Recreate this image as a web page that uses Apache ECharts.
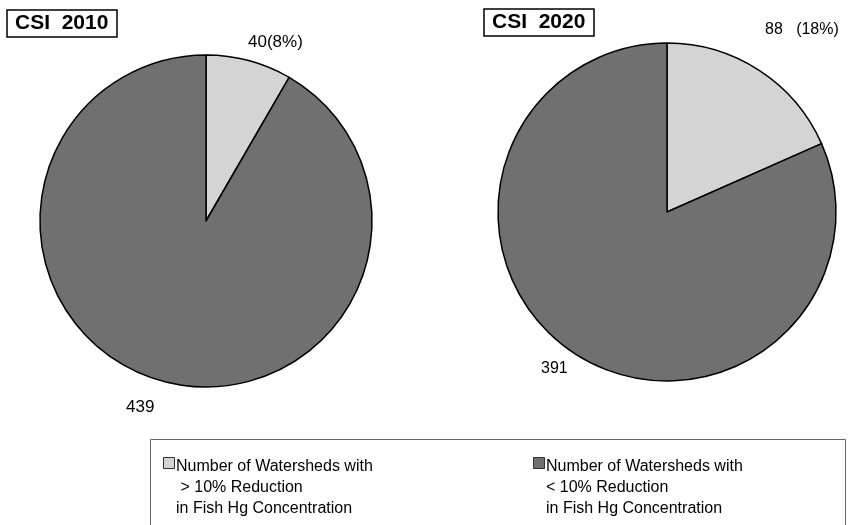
<!DOCTYPE html>
<html>
<head>
<meta charset="utf-8">
<script src="https://cdn.jsdelivr.net/npm/echarts@6/dist/echarts.min.js"></script>
<style>
  html, body { margin: 0; padding: 0; background: #fff; }
  #chart { width: 854px; height: 525px; }
</style>
</head>
<body>
<div id="chart"></div>
<script>
// Watershed counts by fish Hg reduction class, per scenario
const categories = [
  'Number of Watersheds with\n > 10% Reduction\nin Fish Hg Concentration',
  'Number of Watersheds with\n< 10% Reduction\nin Fish Hg Concentration'
];
const scenarios = ['CSI  2010', 'CSI  2020'];
const csi2010 = [40, 439];
const csi2020 = [88, 391];
const percentSep = ['', '   '];

const FONT = 'Liberation Sans, Arial, sans-serif';
const sliceColors = ['#d4d4d4', '#707070'];

function makeData(values) {
  return values.map((v, i) => ({
    name: categories[i],
    value: v,
    itemStyle: { color: sliceColors[i] }
  }));
}

function pctLabel(sep) {
  return function (p) {
    if (p.dataIndex === 0) return p.value + sep + '(' + Math.round(p.percent) + '%)';
    return String(p.value);
  };
}

const titleStyle = { fontFamily: FONT, fontSize: 21, fontWeight: 'bold', color: '#000' };

const chart = echarts.init(document.getElementById('chart'));

chart.setOption({
  animation: false,
  backgroundColor: '#ffffff',
  title: [
    {
      text: scenarios[0], left: 7, top: 10,
      padding: [3, 9, 3, 8],
      borderColor: '#000', borderWidth: 1.5,
      textStyle: titleStyle
    },
    {
      text: scenarios[1], left: 484, top: 9,
      padding: [3, 9, 3, 8],
      borderColor: '#000', borderWidth: 1.5,
      textStyle: titleStyle
    }
  ],
  series: [
    {
      type: 'pie',
      center: [206, 221],
      radius: 166,
      startAngle: 90,
      clockwise: true,
      data: makeData(csi2010),
      itemStyle: { borderColor: '#000', borderWidth: 1.5 },
      emphasis: { disabled: true },
      labelLine: { show: false },
      label: {
        show: true, position: 'outside', overflow: 'none',
        formatter: pctLabel(percentSep[0]),
        fontFamily: FONT, fontSize: 17, color: '#000'
      },
      labelLayout: function (p) {
        return p.dataIndex === 0
          ? { x: 248, y: 42, align: 'left', verticalAlign: 'middle' }
          : { x: 126, y: 407, align: 'left', verticalAlign: 'middle' };
      }
    },
    {
      type: 'pie',
      center: [667, 212],
      radius: 169,
      startAngle: 90,
      clockwise: true,
      data: makeData(csi2020),
      itemStyle: { borderColor: '#000', borderWidth: 1.5 },
      emphasis: { disabled: true },
      labelLine: { show: false },
      label: {
        show: true, position: 'outside', overflow: 'none',
        formatter: pctLabel(percentSep[1]),
        fontFamily: FONT, fontSize: 16, color: '#000'
      },
      labelLayout: function (p) {
        return p.dataIndex === 0
          ? { x: 765, y: 30, align: 'left', verticalAlign: 'middle' }
          : { x: 541, y: 369, align: 'left', verticalAlign: 'middle' };
      }
    }
  ],
  graphic: [
    // legend frame
    {
      type: 'rect', left: 148, top: 437,
      shape: { width: 695, height: 100 },
      style: { fill: 'none', stroke: '#666', lineWidth: 1 }
    },
    {
      type: 'rect', left: 163, top: 457,
      shape: { width: 11, height: 11 },
      style: { fill: sliceColors[0], stroke: '#333', lineWidth: 1 }
    },
    {
      type: 'text', left: 176, top: 456,
      style: { text: categories[0], font: '16px ' + FONT, fill: '#000', lineHeight: 21 }
    },
    {
      type: 'rect', left: 533, top: 457,
      shape: { width: 11, height: 11 },
      style: { fill: sliceColors[1], stroke: '#333', lineWidth: 1 }
    },
    {
      type: 'text', left: 546, top: 456,
      style: { text: categories[1], font: '16px ' + FONT, fill: '#000', lineHeight: 21 }
    }
  ]
});
</script>
</body>
</html>
